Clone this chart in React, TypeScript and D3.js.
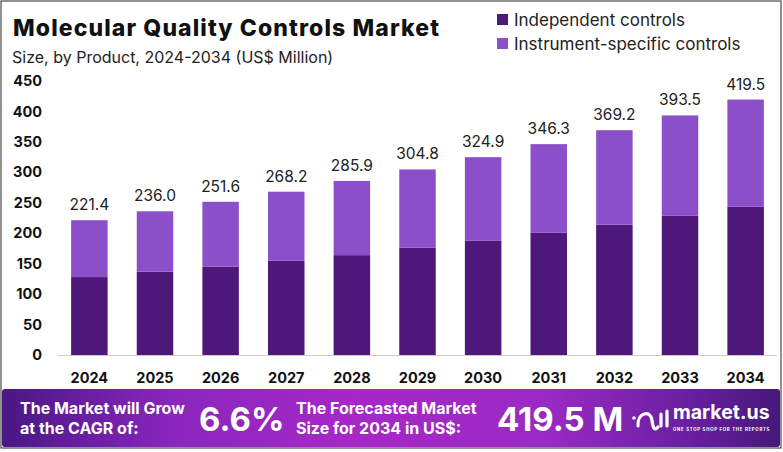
import React from "react";
import * as d3 from "d3";

const years = ["2024", "2025", "2026", "2027", "2028", "2029", "2030", "2031", "2032", "2033", "2034"];
const totals = [221.4, 236.0, 251.6, 268.2, 285.9, 304.8, 324.9, 346.3, 369.2, 393.5, 419.5];
const independent = [128, 137, 145, 155, 164, 176.5, 187.5, 200.7, 214, 228.6, 243.4];
const instrument = totals.map((t, i) => +(t - independent[i]).toFixed(1));
const yTicks = [0, 50, 100, 150, 200, 250, 300, 350, 400, 450];
const seriesNames = ["Independent controls", "Instrument-specific controls"];
const colors = ["#4e177a", "#8b50c9"];

const W = 783;
const H = 452;

export default function App() {
  const x = d3.scaleBand<string>().domain(years).range([58, 777]).paddingInner(0.444).paddingOuter(0.2);
  const y = d3.scaleLinear().domain([0, 450]).range([355, 81]);
  const font = "Inter, 'Open Sans', sans-serif";

  const rows = years.map((yr, i) => ({ year: yr, independent: independent[i], instrument: instrument[i], total: totals[i] }));
  const stack = d3.stack<any>().keys(["independent", "instrument"])(rows);

  return (
    <svg width={W} height={H} style={{ position: "absolute", left: 0, top: 0, background: "#fff" }} fontFamily={font}>
      <defs>
        <linearGradient id="banner" x1="0" x2="1" y1="0" y2="0">
          <stop offset="0" stopColor="#4a1784" />
          <stop offset="0.22" stopColor="#8a26bd" />
          <stop offset="0.45" stopColor="#a628c6" />
          <stop offset="0.7" stopColor="#9a2ac4" />
          <stop offset="0.88" stopColor="#6a1fa0" />
          <stop offset="1" stopColor="#46187a" />
        </linearGradient>
      </defs>
      <rect x={1} y={1} width={W - 3} height={H - 5} fill="#fff" stroke="#4a4a4a" strokeWidth={1.2} />

      <text x={13} y={36} fontSize={23} fontWeight={800} fill="#111" letterSpacing={1.1}>
        Molecular Quality Controls Market
      </text>
      <text x={12} y={63} fontSize={16} fill="#222">
        Size, by Product, 2024-2034 (US$ Million)
      </text>

      {seriesNames.map((n, i) => (
        <g key={n}>
          <rect x={497} y={14 + i * 24} width={11} height={11} fill={colors[i]} />
          <text x={514} y={26 + i * 24} fontSize={17} fill="#222">
            {n}
          </text>
        </g>
      ))}

      {yTicks.map((t) => (
        <text key={t} x={42} y={y(t)} dy="0.35em" textAnchor="end" fontSize={14.5} fontWeight={700} fill="#111">
          {t}
        </text>
      ))}

      <line x1={58} x2={777} y1={y(0) + 0.5} y2={y(0) + 0.5} stroke="#ccc" strokeWidth={1} />

      {stack.map((s, si) =>
        s.map((d: any, i: number) => (
          <rect
            key={si + "-" + i}
            x={x(years[i])!}
            width={x.bandwidth()}
            y={y(d[1])}
            height={y(d[0]) - y(d[1])}
            fill={colors[si]}
          />
        ))
      )}

      {years.map((yr, i) => (
        <text key={yr} x={x(yr)! + x.bandwidth() / 2} y={y(totals[i]) - 10} textAnchor="middle" fontSize={15.5} fill="#222">
          {totals[i].toFixed(1)}
        </text>
      ))}

      {years.map((yr) => (
        <text key={yr} x={x(yr)! + x.bandwidth() / 2} y={383} textAnchor="middle" fontSize={14.5} fontWeight={700} fill="#111">
          {yr}
        </text>
      ))}

      <rect x={2} y={389} width={W - 5} height={58} rx={3} fill="url(#banner)" />
      <g fill="#fff" fontWeight={700}>
        <text x={20} y={414} fontSize={16}>The Market will Grow</text>
        <text x={20} y={434} fontSize={16}>at the CAGR of:</text>
        <text x={199} y={431} fontSize={33}>6.6%</text>
        <text x={296} y={414} fontSize={16}>The Forecasted Market</text>
        <text x={296} y={434} fontSize={16}>Size for 2034 in US$:</text>
        <text x={497} y={431} fontSize={33}>419.5 M</text>
        <text x={673} y={419} fontSize={19.5}>market.us</text>
        <text x={673} y={431} fontSize={4.3} letterSpacing={0.75}>ONE STOP SHOP FOR THE REPORTS</text>
      </g>
      <g fill="none" stroke="#fff" strokeWidth={3.2} strokeLinecap="round">
        <path d="M638 426 C637 412, 651 410, 652 420 C653 429, 655 431, 658 427" />
        <line x1={661} y1={414} x2={661} y2={426} />
        <line x1={667} y1={411} x2={667} y2={426} />
      </g>
      <circle cx={634} cy={418} r={1.8} fill="#fff" />
    </svg>
  );
}
